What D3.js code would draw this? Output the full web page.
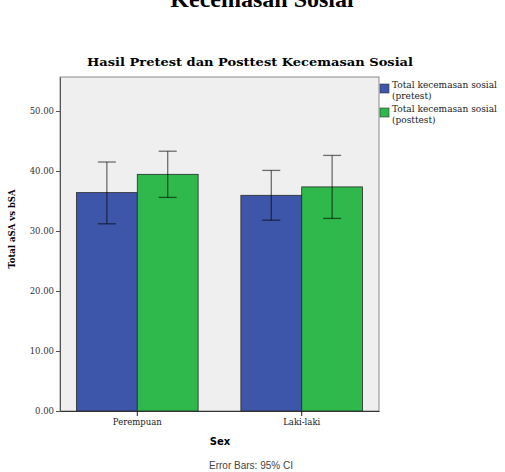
<!DOCTYPE html>
<html>
<head>
<meta charset="utf-8">
<script src="https://cdn.jsdelivr.net/npm/d3@7"></script>
<style>
  body { margin: 0; background: #fff; }
  svg { display: block; }
</style>
</head>
<body>
<div id="chart"></div>
<script>
var width = 505;
var height = 472;

// data
var categories = ["Perempuan", "Laki-laki"];
var seriesNames = ["Total kecemasan sosial (pretest)", "Total kecemasan sosial (posttest)"];
var pretestMean = [36.4, 35.95];
var pretestLow = [31.2, 31.8];
var pretestHigh = [41.5, 40.1];
var posttestMean = [39.45, 37.35];
var posttestLow = [35.6, 32.1];
var posttestHigh = [43.3, 42.6];
var yTicks = [0, 10, 20, 30, 40, 50];

var colors = ["#3d56aa", "#2fb84b"];

var plot = {left: 60, right: 379, top: 77, bottom: 411};

var svg = d3.select("#chart").append("svg")
    .attr("width", width)
    .attr("height", height);

var x0 = d3.scaleBand()
    .domain(categories)
    .range([plot.left, plot.right])
    .paddingInner(0.26)
    .paddingOuter(0.1);

var x1 = d3.scaleBand()
    .domain([0, 1])
    .range([0, x0.bandwidth()]);

var y = d3.scaleLinear()
    .domain([0, 55.67])
    .range([plot.bottom, plot.top]);

var rows = [];
categories.forEach(function (c, i) {
    rows.push({cat: c, s: 0, mean: pretestMean[i], lo: pretestLow[i], hi: pretestHigh[i]});
    rows.push({cat: c, s: 1, mean: posttestMean[i], lo: posttestLow[i], hi: posttestHigh[i]});
});

// big title, cut off at the top like in the source image
svg.append("text")
    .attr("x", 262)
    .attr("y", 7)
    .attr("text-anchor", "middle")
    .style("font-family", "'Liberation Serif', serif")
    .style("font-weight", "bold")
    .style("font-size", "24px")
    .text("Kecemasan Sosial");

svg.append("text")
    .attr("x", 250)
    .attr("y", 66)
    .attr("text-anchor", "middle")
    .style("font-family", "'DejaVu Serif', serif")
    .style("font-weight", "900")
    .style("font-size", "11.5px")
    .attr("textLength", 326)
    .attr("lengthAdjust", "spacingAndGlyphs")
    .text("Hasil Pretest dan Posttest Kecemasan Sosial");

// plot background
svg.append("rect")
    .attr("x", plot.left)
    .attr("y", plot.top)
    .attr("width", plot.right - plot.left)
    .attr("height", plot.bottom - plot.top)
    .attr("fill", "#efefef")
    .attr("stroke", "#8a8a8a")
    .attr("stroke-width", 1);

// bars
svg.selectAll(".bar")
    .data(rows)
    .enter().append("rect")
    .attr("class", "bar")
    .attr("x", function (d) { return x0(d.cat) + x1(d.s); })
    .attr("y", function (d) { return y(d.mean); })
    .attr("width", x1.bandwidth())
    .attr("height", function (d) { return y(0) - y(d.mean); })
    .attr("fill", function (d) { return colors[d.s]; })
    .attr("stroke", "#2a2a2a")
    .attr("stroke-width", 0.8);

// error bars
var err = svg.selectAll(".err")
    .data(rows)
    .enter().append("g")
    .attr("class", "err")
    .attr("stroke", "rgba(0,0,0,0.55)")
    .attr("stroke-width", 1.3);

err.append("line")
    .attr("x1", function (d) { return x0(d.cat) + x1(d.s) + x1.bandwidth() / 2; })
    .attr("x2", function (d) { return x0(d.cat) + x1(d.s) + x1.bandwidth() / 2; })
    .attr("y1", function (d) { return y(d.lo); })
    .attr("y2", function (d) { return y(d.hi); });

["hi", "lo"].forEach(function (k) {
    err.append("line")
        .attr("x1", function (d) { return x0(d.cat) + x1(d.s) + x1.bandwidth() / 2 - 9; })
        .attr("x2", function (d) { return x0(d.cat) + x1(d.s) + x1.bandwidth() / 2 + 9; })
        .attr("y1", function (d) { return y(d[k]); })
        .attr("y2", function (d) { return y(d[k]); });
});

// axes
var yAxis = svg.append("g")
    .attr("transform", "translate(" + plot.left + ",0)")
    .call(d3.axisLeft(y).tickValues(yTicks).tickFormat(d3.format(".2f")).tickSize(4).tickSizeOuter(0));
yAxis.select(".domain").attr("stroke", "#555");
yAxis.selectAll(".tick line").attr("stroke", "#555");
yAxis.selectAll(".tick text")
    .attr("x", -6)
    .style("font-family", "'DejaVu Serif', serif")
    .style("font-size", "8.5px")
    .attr("fill", "#333");

var xAxis = svg.append("g")
    .attr("transform", "translate(0," + plot.bottom + ")")
    .call(d3.axisBottom(x0).tickSize(5).tickSizeOuter(0));
xAxis.select(".domain").attr("stroke", "#333");
xAxis.selectAll(".tick line").attr("stroke", "#222");
xAxis.selectAll(".tick text")
    .attr("y", 8)
    .style("font-family", "'DejaVu Serif', serif")
    .style("font-size", "8.5px")
    .attr("fill", "#222");

// axis titles
svg.append("text")
    .attr("transform", "translate(15,229) rotate(-90)")
    .attr("text-anchor", "middle")
    .style("font-family", "'DejaVu Serif', serif")
    .style("font-weight", "bold")
    .style("font-size", "8.5px")
    .text("Total aSA vs bSA");

svg.append("text")
    .attr("x", 220)
    .attr("y", 445)
    .attr("text-anchor", "middle")
    .style("font-family", "'DejaVu Sans', sans-serif")
    .style("font-weight", "bold")
    .style("font-size", "10px")
    .text("Sex");

svg.append("text")
    .attr("x", 251)
    .attr("y", 469)
    .attr("text-anchor", "middle")
    .style("font-family", "'Liberation Sans', Arial, sans-serif")
    .style("font-size", "10px")
    .attr("fill", "#444")
    .text("Error Bars: 95% CI");

// legend
var legend = svg.selectAll(".legend")
    .data(seriesNames)
    .enter().append("g")
    .attr("class", "legend")
    .attr("transform", function (d, i) { return "translate(380," + (84 + i * 24) + ")"; });

legend.append("rect")
    .attr("width", 9)
    .attr("height", 9)
    .attr("fill", function (d, i) { return colors[i]; })
    .attr("stroke", "#333")
    .attr("stroke-width", 0.6);

legend.append("text")
    .attr("x", 12)
    .attr("y", 4)
    .style("font-family", "'DejaVu Serif', serif")
    .style("font-size", "9px")
    .attr("fill", "#222")
    .text(function (d) { return d.split(" (")[0]; });

legend.append("text")
    .attr("x", 12)
    .attr("y", 15)
    .style("font-family", "'DejaVu Serif', serif")
    .style("font-size", "9px")
    .attr("fill", "#222")
    .text(function (d) { return "(" + d.split(" (")[1]; });
</script>
</body>
</html>
